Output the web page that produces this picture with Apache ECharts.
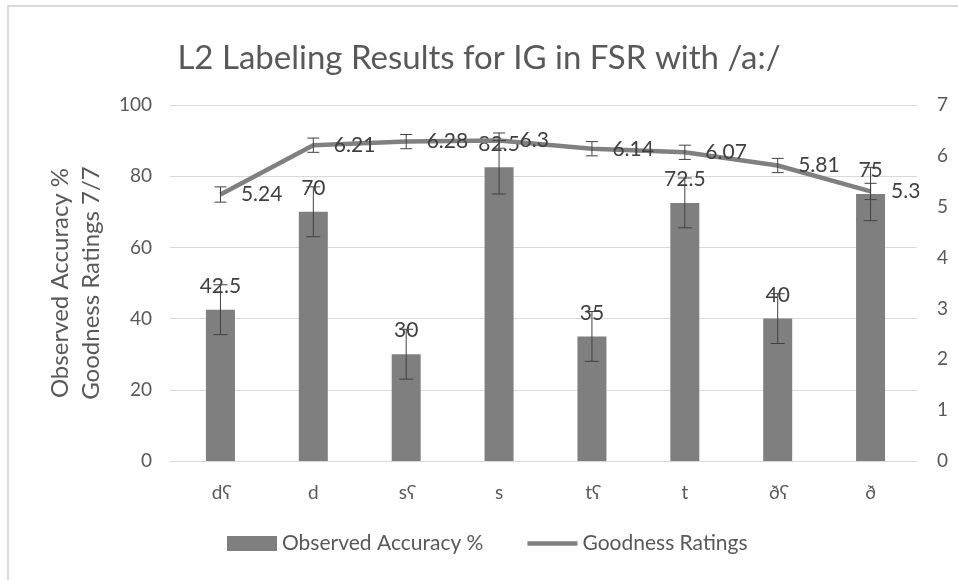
<!DOCTYPE html>
<html>
<head>
<meta charset="utf-8">
<script src="https://cdn.jsdelivr.net/npm/echarts@6/dist/echarts.min.js"></script>
<style>
html,body{margin:0;padding:0;background:#fff;}
#chart{width:958px;height:580px;}
</style>
</head>
<body>
<div id="chart"></div>
<script>
var categories = ['dʕ','d','sʕ','s','tʕ','t','ðʕ','ð'];
var accuracy = [42.5, 70, 30, 82.5, 35, 72.5, 40, 75];
var accuracyErr = [7, 7, 7, 7.5, 7, 7, 7, 7.5];
var goodness = [5.24, 6.21, 6.28, 6.3, 6.14, 6.07, 5.81, 5.3];
var goodnessErr = [0.15, 0.14, 0.14, 0.15, 0.14, 0.14, 0.14, 0.16];
var leftTicks = [0, 20, 40, 60, 80, 100];
var rightTicks = [0, 1, 2, 3, 4, 5, 6, 7];

var FONT = 'Lato';
var TXT = '#595959';

function errData(vals, errs) {
  return vals.map(function (v, i) { return [i, v - errs[i], v + errs[i]]; });
}
function errRender(capHalf) {
  return function (params, api) {
    var x = api.value(0);
    var lo = api.coord([x, api.value(1)]);
    var hi = api.coord([x, api.value(2)]);
    var st = { stroke: '#404040', lineWidth: 1 };
    return {
      type: 'group',
      children: [
        { type: 'line', shape: { x1: lo[0], y1: lo[1], x2: hi[0], y2: hi[1] }, style: st },
        { type: 'line', shape: { x1: lo[0] - capHalf, y1: lo[1], x2: lo[0] + capHalf, y2: lo[1] }, style: st },
        { type: 'line', shape: { x1: hi[0] - capHalf, y1: hi[1], x2: hi[0] + capHalf, y2: hi[1] }, style: st }
      ]
    };
  };
}

var chart = echarts.init(document.getElementById('chart'), null, { renderer: 'canvas' });
chart.setOption({
  animation: false,
  backgroundColor: '#fff',
  graphic: [{
    type: 'rect', z: -10,
    shape: { x: 8, y: 6, width: 1000, height: 640 },
    style: { fill: 'none', stroke: '#d9d9d9', lineWidth: 2 }
  }],
  title: {
    text: 'L2 Labeling Results for IG in FSR with /a:/',
    left: 'center', top: 37,
    textStyle: { fontFamily: FONT, fontSize: 33, fontWeight: 'normal', color: TXT }
  },
  legend: {
    bottom: 21, left: 222,
    itemGap: 44, itemWidth: 50, itemHeight: 15,
    textStyle: { fontFamily: FONT, fontSize: 21, color: TXT },
    data: [
      { name: 'Observed Accuracy %', icon: 'rect' },
      { name: 'Goodness Ratings', icon: 'path://M0,0 L50,0 L50,4.5 L0,4.5 Z' }
    ]
  },
  grid: { left: 174, right: 41, top: 105, bottom: 119, containLabel: false },
  xAxis: {
    type: 'category', data: categories,
    axisLine: { lineStyle: { color: '#d9d9d9', width: 1 } },
    axisTick: { show: false },
    axisLabel: { fontFamily: FONT, fontSize: 19, color: TXT, margin: 22 }
  },
  yAxis: [{
    type: 'value', min: leftTicks[0], max: leftTicks[leftTicks.length - 1], interval: 20,
    name: 'Observed Accuracy %\nGoodness Ratings 7/7',
    nameLocation: 'middle', nameGap: 67, nameRotate: 90,
    nameTextStyle: { fontFamily: FONT, fontSize: 24, color: TXT, lineHeight: 31, align: 'center' },
    axisLine: { show: false },
    axisTick: { show: true, length: 4, lineStyle: { color: '#d9d9d9' } },
    axisLabel: { fontFamily: FONT, fontSize: 19, color: TXT, margin: 22 },
    splitLine: { lineStyle: { color: '#d9d9d9', width: 1 } }
  }, {
    type: 'value', min: rightTicks[0], max: rightTicks[rightTicks.length - 1], interval: 1,
    position: 'right',
    axisLine: { show: false },
    axisTick: { show: false },
    axisLabel: { fontFamily: FONT, fontSize: 19, color: TXT, margin: 20 },
    splitLine: { show: false }
  }],
  series: [{
    name: 'Observed Accuracy %', type: 'bar', data: accuracy,
    barWidth: 29,
    itemStyle: { color: '#7f7f7f' },
    label: { show: true, position: 'top', distance: 13, fontFamily: FONT, fontSize: 21, color: '#404040' },
    z: 2
  }, {
    name: 'accErr', type: 'custom', data: errData(accuracy, accuracyErr),
    renderItem: errRender(7), encode: { x: 0, y: [1, 2] }, z: 5, silent: true
  }, {
    name: 'Goodness Ratings', type: 'line', yAxisIndex: 1, data: goodness,
    symbol: 'circle', symbolSize: 1, showSymbol: true, smooth: false,
    lineStyle: { color: '#808080', width: 4.5 },
    itemStyle: { color: '#808080' },
    label: { show: true, position: 'right', distance: 20, fontFamily: FONT, fontSize: 21, color: '#404040' },
    labelLayout: { hideOverlap: false },
    z: 3
  }, {
    name: 'gErr', type: 'custom', yAxisIndex: 1, data: errData(goodness, goodnessErr),
    renderItem: errRender(6), encode: { x: 0, y: [1, 2] }, z: 6, silent: true
  }]
});
</script>
</body>
</html>
